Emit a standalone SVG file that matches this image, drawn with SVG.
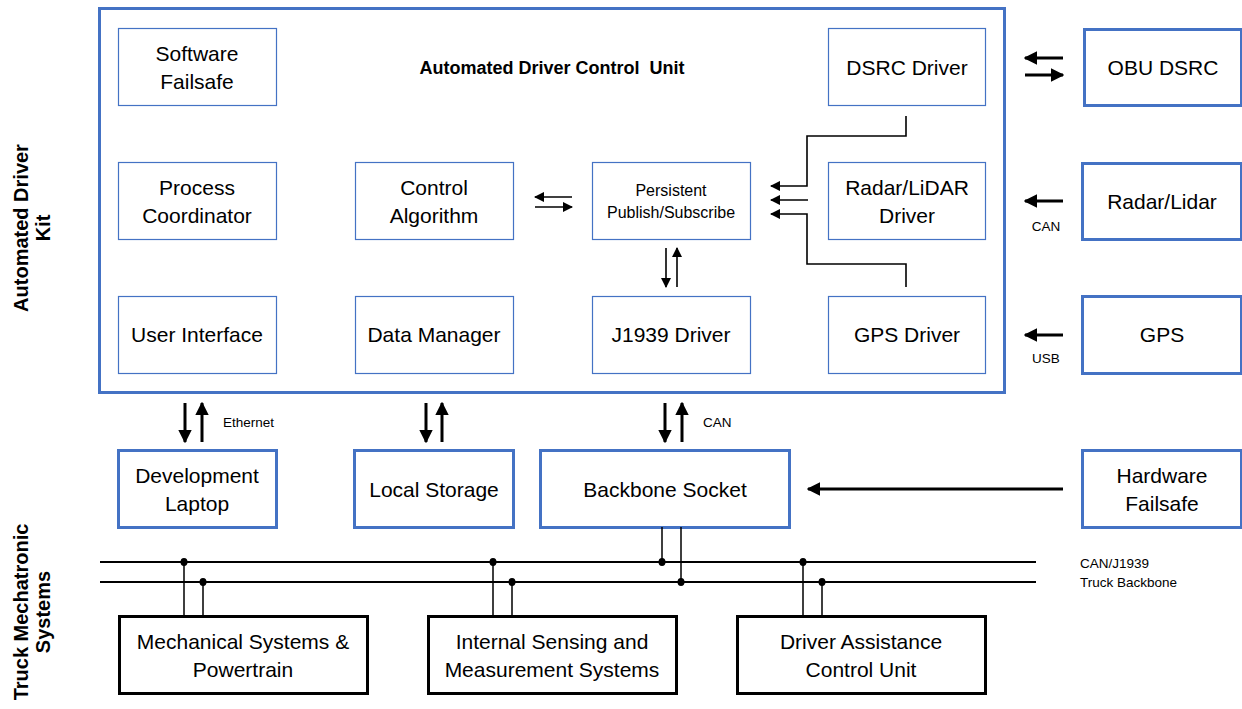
<svg xmlns="http://www.w3.org/2000/svg" width="1242" height="709" viewBox="0 0 1242 709">
  <style>
    text { font-family: "Liberation Sans", Arial, sans-serif; fill: #000; }
    .lbl { font-size: 21px; text-anchor: middle; }
    .sm { font-size: 16px; text-anchor: middle; }
    .tiny { font-size: 13.5px; }
    .side { font-size: 20px; font-weight: bold; text-anchor: middle; }
    .title { font-size: 18px; font-weight: bold; text-anchor: middle; white-space: pre; }
    .inner { fill: #fff; stroke: #4472C4; stroke-width: 1.2; }
    .outer { fill: #fff; stroke: #4472C4; stroke-width: 3; }
    .hw { fill: #fff; stroke: #000; stroke-width: 3; }
    .thin { fill: none; stroke: #000; stroke-width: 1.6; }
    .thick { fill: none; stroke: #000; stroke-width: 3; }
    .bus { fill: none; stroke: #000; stroke-width: 2; }
    .tap { fill: none; stroke: #000; stroke-width: 1.5; }
  </style>
  <defs>
    <marker id="ah" viewBox="0 0 10 10" refX="9" refY="5" markerWidth="4.5" markerHeight="4.5" orient="auto" markerUnits="strokeWidth">
      <path d="M0,0 L10,5 L0,10 z" fill="#000"/>
    </marker>
    <marker id="ahs" viewBox="0 0 10 10" refX="9" refY="5" markerWidth="6.5" markerHeight="6.5" orient="auto" markerUnits="strokeWidth">
      <path d="M0,0 L10,5 L0,10 z" fill="#000"/>
    </marker>
  </defs>

  <!-- side labels -->
  <g id="label-kit">
    <text class="side" transform="translate(28,228) rotate(-90)">Automated Driver</text>
    <text class="side" transform="translate(50,228) rotate(-90)">Kit</text>
  </g>
  <g id="label-truck">
    <text class="side" transform="translate(28,612) rotate(-90)">Truck Mechatronic</text>
    <text class="side" transform="translate(50,612) rotate(-90)">Systems</text>
  </g>

  <!-- control unit container -->
  <g id="control-unit">
    <rect class="outer" x="99.5" y="8.5" width="905" height="384"/>
    <text class="title" x="552" y="74">Automated Driver Control  Unit</text>
  </g>

  <g id="software-failsafe">
    <rect class="inner" x="118.5" y="28.5" width="158" height="77"/>
    <text class="lbl" x="197" y="61">Software</text>
    <text class="lbl" x="197" y="89">Failsafe</text>
  </g>
  <g id="dsrc-driver">
    <rect class="inner" x="828.5" y="28.5" width="157" height="77"/>
    <text class="lbl" x="907" y="75">DSRC Driver</text>
  </g>
  <g id="process-coordinator">
    <rect class="inner" x="118.5" y="162.5" width="158" height="77"/>
    <text class="lbl" x="197" y="195">Process</text>
    <text class="lbl" x="197" y="223">Coordinator</text>
  </g>
  <g id="control-algorithm">
    <rect class="inner" x="355.5" y="162.5" width="158" height="77"/>
    <text class="lbl" x="434" y="195">Control</text>
    <text class="lbl" x="434" y="223">Algorithm</text>
  </g>
  <g id="pubsub">
    <rect class="inner" x="592.5" y="162.5" width="158" height="77"/>
    <text class="sm" x="671" y="196">Persistent</text>
    <text class="sm" x="671" y="218">Publish/Subscribe</text>
  </g>
  <g id="radar-driver">
    <rect class="inner" x="828.5" y="162.5" width="157" height="77"/>
    <text class="lbl" x="907" y="195">Radar/LiDAR</text>
    <text class="lbl" x="907" y="223">Driver</text>
  </g>
  <g id="user-interface">
    <rect class="inner" x="118.5" y="296.5" width="158" height="77"/>
    <text class="lbl" x="197" y="342">User Interface</text>
  </g>
  <g id="data-manager">
    <rect class="inner" x="355.5" y="296.5" width="158" height="77"/>
    <text class="lbl" x="434" y="342">Data Manager</text>
  </g>
  <g id="j1939-driver">
    <rect class="inner" x="592.5" y="296.5" width="158" height="77"/>
    <text class="lbl" x="671" y="342">J1939 Driver</text>
  </g>
  <g id="gps-driver">
    <rect class="inner" x="828.5" y="296.5" width="157" height="77"/>
    <text class="lbl" x="907" y="342">GPS Driver</text>
  </g>

  <!-- external devices -->
  <g id="obu-dsrc">
    <rect class="outer" x="1084.5" y="29.5" width="157" height="76"/>
    <text class="lbl" x="1163" y="75">OBU DSRC</text>
  </g>
  <g id="radar-lidar">
    <rect class="outer" x="1082.5" y="163.5" width="159" height="76"/>
    <text class="lbl" x="1162" y="209">Radar/Lidar</text>
  </g>
  <g id="gps">
    <rect class="outer" x="1082.5" y="296.5" width="159" height="77"/>
    <text class="lbl" x="1162" y="342">GPS</text>
  </g>
  <g id="hardware-failsafe">
    <rect class="outer" x="1082.5" y="450.5" width="159" height="77"/>
    <text class="lbl" x="1162" y="483">Hardware</text>
    <text class="lbl" x="1162" y="511">Failsafe</text>
  </g>
  <g id="development-laptop">
    <rect class="outer" x="118.5" y="450.5" width="158" height="77"/>
    <text class="lbl" x="197" y="483">Development</text>
    <text class="lbl" x="197" y="511">Laptop</text>
  </g>
  <g id="local-storage">
    <rect class="outer" x="354.5" y="450.5" width="159" height="77"/>
    <text class="lbl" x="434" y="497">Local Storage</text>
  </g>
  <g id="backbone-socket">
    <rect class="outer" x="540.5" y="450.5" width="249" height="77"/>
    <text class="lbl" x="665" y="497">Backbone Socket</text>
  </g>

  <!-- truck systems -->
  <g id="mechanical-systems">
    <rect class="hw" x="119.5" y="616.5" width="248" height="77"/>
    <text class="lbl" x="243" y="649">Mechanical Systems &amp;</text>
    <text class="lbl" x="243" y="677">Powertrain</text>
  </g>
  <g id="internal-sensing">
    <rect class="hw" x="428.5" y="616.5" width="248" height="77"/>
    <text class="lbl" x="552" y="649">Internal Sensing and</text>
    <text class="lbl" x="552" y="677">Measurement Systems</text>
  </g>
  <g id="driver-assistance">
    <rect class="hw" x="737.5" y="616.5" width="248" height="77"/>
    <text class="lbl" x="861" y="649">Driver Assistance</text>
    <text class="lbl" x="861" y="677">Control Unit</text>
  </g>

  <!-- connectors -->
  <g id="connectors">
    <!-- control algorithm <-> pub/sub -->
    <line class="thin" x1="572" y1="197" x2="535" y2="197" marker-end="url(#ahs)"/>
    <line class="thin" x1="535" y1="207" x2="572" y2="207" marker-end="url(#ahs)"/>
    <!-- pub/sub <-> J1939 -->
    <line class="thin" x1="666" y1="248" x2="666" y2="287" marker-end="url(#ahs)"/>
    <line class="thin" x1="677" y1="287" x2="677" y2="248" marker-end="url(#ahs)"/>
    <!-- drivers into pub/sub -->
    <polyline class="thin" points="906,116 906,136 807,136 807,186 771,186" marker-end="url(#ahs)"/>
    <line class="thin" x1="808" y1="200" x2="771" y2="200" marker-end="url(#ahs)"/>
    <polyline class="thin" points="906,287 906,264 807,264 807,214 771,214" marker-end="url(#ahs)"/>

    <!-- external devices into control unit -->
    <line class="thick" x1="1063" y1="58" x2="1025" y2="58" marker-end="url(#ah)"/>
    <line class="thick" x1="1025" y1="75" x2="1063" y2="75" marker-end="url(#ah)"/>
    <line class="thick" x1="1063" y1="201" x2="1025" y2="201" marker-end="url(#ah)"/>
    <text class="tiny" x="1046" y="231" text-anchor="middle">CAN</text>
    <line class="thick" x1="1063" y1="335" x2="1025" y2="335" marker-end="url(#ah)"/>
    <text class="tiny" x="1046" y="363" text-anchor="middle">USB</text>
    <line class="thick" x1="1063" y1="489" x2="808" y2="489" marker-end="url(#ah)"/>

    <!-- control unit <-> peripherals -->
    <line class="thick" x1="185" y1="403" x2="185" y2="442" marker-end="url(#ah)"/>
    <line class="thick" x1="202" y1="442" x2="202" y2="403" marker-end="url(#ah)"/>
    <text class="tiny" x="223" y="427">Ethernet</text>
    <line class="thick" x1="426" y1="403" x2="426" y2="442" marker-end="url(#ah)"/>
    <line class="thick" x1="442" y1="442" x2="442" y2="403" marker-end="url(#ah)"/>
    <line class="thick" x1="665" y1="403" x2="665" y2="442" marker-end="url(#ah)"/>
    <line class="thick" x1="682" y1="442" x2="682" y2="403" marker-end="url(#ah)"/>
    <text class="tiny" x="703" y="427">CAN</text>

    <!-- truck backbone -->
    <line class="bus" x1="100" y1="562" x2="1036" y2="562"/>
    <line class="bus" x1="100" y1="582" x2="1036" y2="582"/>
    <text class="tiny" x="1080" y="568">CAN/J1939</text>
    <text class="tiny" x="1080" y="587">Truck Backbone</text>

    <path class="tap" d="M184,562 V616 M203,582 V616 M493,562 V616 M512,582 V616 M803,562 V616 M822,582 V616 M662,527 V562 M681,527 V582"/>
    <g fill="#000">
      <ellipse cx="184" cy="562" rx="3.5" ry="4"/>
      <ellipse cx="203" cy="582" rx="3.5" ry="4"/>
      <ellipse cx="493" cy="562" rx="3.5" ry="4"/>
      <ellipse cx="512" cy="582" rx="3.5" ry="4"/>
      <ellipse cx="662" cy="562" rx="3.5" ry="4"/>
      <ellipse cx="681" cy="582" rx="3.5" ry="4"/>
      <ellipse cx="803" cy="562" rx="3.5" ry="4"/>
      <ellipse cx="822" cy="582" rx="3.5" ry="4"/>
    </g>
  </g>
</svg>
